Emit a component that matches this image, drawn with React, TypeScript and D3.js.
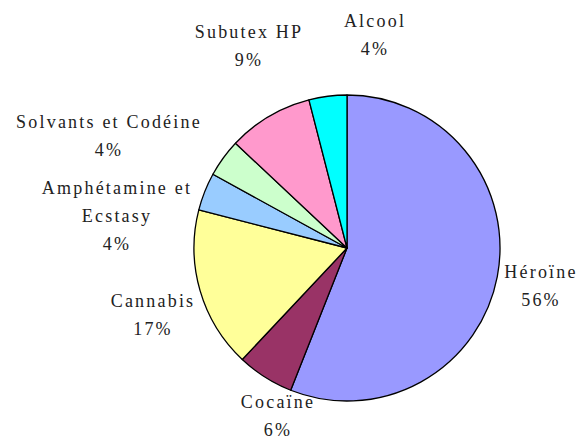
import React from "react";
import * as d3 from "d3";

const categories = ["Héroïne", "Cocaïne", "Cannabis", "Amphétamine et Ecstasy", "Solvants et Codéine", "Subutex HP", "Alcool"];
const values = [56, 6, 17, 4, 4, 9, 4];
const percentLabels = ["56%", "6%", "17%", "4%", "4%", "9%", "4%"];
const labelLines = [["Héroïne"], ["Cocaïne"], ["Cannabis"], ["Amphétamine et", "Ecstasy"], ["Solvants et Codéine"], ["Subutex HP"], ["Alcool"]];
const colors = ["#9999FF", "#993366", "#FFFF99", "#99CCFF", "#CCFFCC", "#FF99CC", "#00FFFF"];

// label layout: center x, first baseline y
const labelPos: [number, number][] = [
  [541, 278],
  [278, 408],
  [153, 307],
  [117, 194],
  [109, 128],
  [249, 38],
  [375, 27],
];

const W = 581, H = 445;
const cx = 347, cy = 248, R = 153;
const LH = 28;

export default function App() {
  const pie = d3.pie<number>().sort(null).value((d) => d);
  const arcs = pie(values);
  const arc = d3.arc<d3.PieArcDatum<number>>().innerRadius(0).outerRadius(R);
  return (
    <svg width={W} height={H} style={{ position: "absolute", left: 0, top: 0, background: "#fff" }}>
      <g transform={`translate(${cx},${cy})`}>
        {arcs.map((a, i) => (
          <path key={i} d={arc(a) || ""} fill={colors[i]} stroke="#000" strokeWidth={1.3} strokeLinejoin="round" />
        ))}
      </g>
      {categories.map((c, i) => {
        const [x, y] = labelPos[i];
        const lines = [...labelLines[i], percentLabels[i]];
        return (
          <text key={c} x={x} y={y} textAnchor="middle" fontFamily="Liberation Serif" fontSize={18} letterSpacing={2.2} fill="#222">
            {lines.map((l, j) => (
              <tspan key={j} x={x} y={y + j * LH}>{l}</tspan>
            ))}
          </text>
        );
      })}
    </svg>
  );
}
